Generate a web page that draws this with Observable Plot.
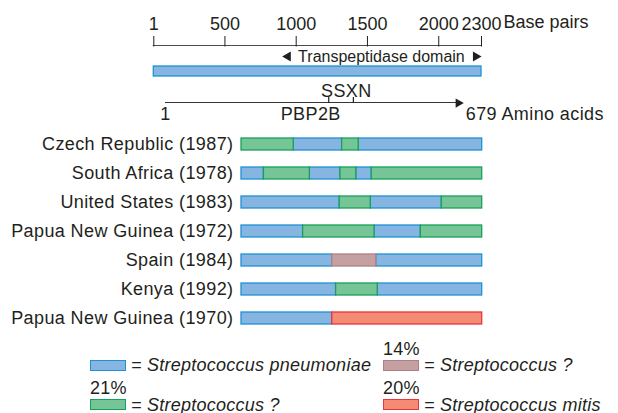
<!DOCTYPE html>
<html><head><meta charset="utf-8">
<script src="https://cdn.jsdelivr.net/npm/d3@7"></script>
<script src="https://cdn.jsdelivr.net/npm/@observablehq/plot@0.6"></script>
<style>
html,body{margin:0;padding:0;background:#fff;}
#fig{position:relative;width:618px;height:413px;overflow:hidden;font-family:"Liberation Sans",Arial,Helvetica,sans-serif;color:#231f20;}
#fig svg{position:absolute;left:0;top:0;}
.lg{position:absolute;font-size:18px;white-space:nowrap;line-height:16px;height:16px;letter-spacing:0.25px;}
.sw{position:absolute;box-sizing:border-box;border:1.3px solid;}
</style></head><body><div id="fig"></div>
<script>
// ---- data ----
const bpTicks = [1, 500, 1000, 1500, 2000, 2300];
const bpUnit = "Base pairs";
const geneSpan = [1, 2300];
const domainLabel = "Transpeptidase domain";
const domainSpan = [902, 2300];
const domainLabelPos = 1598;
const aaSpan = [1, 679];
const aaUnit = "Amino acids";
const motifTicks = [372, 428];
const motifLabel = "SSXN";
const motifLabelPos = 412;
const geneName = "PBP2B";
const geneNamePos = 331;

const rows = [
  "Czech Republic (1987)",
  "South Africa (1978)",
  "United States (1983)",
  "Papua New Guinea (1972)",
  "Spain (1984)",
  "Kenya (1992)",
  "Papua New Guinea (1970)"
];
// segment breakpoints (% of the mosaic region) and origin of each segment
const rowBreaks = [
  [0, 21.7, 41.8, 48.7, 100],
  [0, 9.3, 28.4, 41.1, 47.7, 54.1, 100],
  [0, 40.8, 53.7, 83.2, 100],
  [0, 25.6, 55.3, 74.5, 100],
  [0, 37.7, 56.0, 100],
  [0, 39.3, 56.6, 100],
  [0, 37.7, 100]
];
const rowKinds = [
  ["G", "B", "G", "B"],
  ["B", "G", "B", "G", "B", "G"],
  ["B", "G", "B", "G"],
  ["B", "G", "B", "G"],
  ["B", "P", "B"],
  ["B", "G", "B"],
  ["B", "R"]
];
const kindFill = {B: "#87b5e1", G: "#75c597", P: "#c5a0a3", R: "#f48b72"};
const kindStroke = {B: "#1e92d4", G: "#17a05b", P: "#ae8085", R: "#e4363d"};
const legendKinds = ["B", "P", "G", "R"];
const legendNames = ["Streptococcus pneumoniae", "Streptococcus ?", "Streptococcus ?", "Streptococcus mitis"];
const legendPct = ["", "14%", "21%", "20%"];

// ---- drawing ----
const ink = "#231f20";
const font = "'Liberation Sans', Arial, Helvetica, sans-serif";
const baseStyle = {background: "transparent", fontSize: "18px", fontFamily: font, color: ink, overflow: "visible"};
const wideStyle = Object.assign({}, baseStyle, {letterSpacing: "0.4px"});
const fig = document.getElementById("fig");

// Plot A: base-pair ruler and gene bar
const plotA = Plot.plot({
  width: 618, height: 85, marginTop: 45.5, marginBottom: 0, marginLeft: 153, marginRight: 137,
  style: baseStyle,
  x: {domain: [geneSpan[0], geneSpan[1]], range: [153.3, 481], axis: "top", ticks: bpTicks,
      tickSize: 10.5, tickPadding: 5.5, tickFormat: d => String(d), label: null},
  y: {type: "band", domain: ["ruler", "domain", "gene"], range: [35, 77.3], paddingInner: 0.34, paddingOuter: 0, axis: null},
  marks: [
    Plot.barX([{a: geneSpan[0], b: geneSpan[1]}], {x1: "a", x2: "b", y: () => "ruler", insetTop: 9.2, insetLeft: -0.6, insetRight: -0.6, fill: ink}),
    Plot.text([bpUnit], {x: () => geneSpan[1], y: () => "ruler", dx: 22, dy: -19, textAnchor: "start", letterSpacing: "0.3px"}),
    Plot.text([domainLabel], {x: () => domainLabelPos, y: () => "domain", fontSize: 16}),
    Plot.dot([domainSpan[0]], {x: d => d, y: () => "domain", symbol: "triangle", rotate: -90, r: 3.7, dx: 5.7, fill: ink}),
    Plot.dot([domainSpan[1]], {x: d => d, y: () => "domain", symbol: "triangle", rotate: 90, r: 3.7, dx: -5.7, fill: ink}),
    Plot.barX([{a: geneSpan[0], b: geneSpan[1]}], {x1: "a", x2: "b", y: () => "gene", fill: kindFill.B, stroke: kindStroke.B, strokeWidth: 1.3})
  ]
});
fig.appendChild(plotA);

// Plot B: amino-acid arrow
const plotB = Plot.plot({
  width: 618, height: 125, margin: 0,
  style: wideStyle,
  x: {domain: aaSpan, range: [165, 463.3], axis: null},
  y: {type: "band", domain: ["aa"], range: [96.7, 103.3], padding: 0, axis: null},
  marks: [
    Plot.barX([{a: aaSpan[0], b: aaSpan[1]}], {x1: "a", x2: "b", y: () => "aa", insetTop: 5.1, insetRight: 3, fill: ink}),
    Plot.tickX(motifTicks, {x: d => d, y: () => "aa", stroke: ink, strokeWidth: 1.2}),
    Plot.dot([aaSpan[1]], {x: d => d, y: () => "aa", dy: 2.6, dx: -5.44, symbol: "triangle", rotate: 90, r: 3.5, fill: ink}),
    Plot.text([motifLabel], {x: () => motifLabelPos, y: () => "aa", dy: -9}),
    Plot.text([String(aaSpan[0])], {x: () => aaSpan[0], y: () => "aa", dy: 14}),
    Plot.text([geneName], {x: () => geneNamePos, y: () => "aa", dy: 14}),
    Plot.text([aaSpan[1] + " " + aaUnit], {x: () => aaSpan[1], y: () => "aa", dx: 2, dy: 14, textAnchor: "start"})
  ]
});
fig.appendChild(plotB);

// Plot C: mosaic rows
const segs = [];
rows.forEach((r, i) => {
  const b = rowBreaks[i];
  rowKinds[i].forEach((k, j) => segs.push({row: r, start: b[j], end: b[j + 1], kind: k}));
});
segs.sort((a, b) => (a.kind === "B" ? 0 : 1) - (b.kind === "B" ? 0 : 1));
const plotC = Plot.plot({
  width: 618, height: 345, marginLeft: 241, marginRight: 136, marginTop: 0, marginBottom: 0,
  style: wideStyle,
  x: {domain: [0, 100], range: [241, 481.7], axis: null},
  y: {domain: rows, range: [120, 341.2], padding: 0.6, tickSize: 0, tickPadding: 8, label: null},
  color: {type: "identity"},
  marks: [
    Plot.barX(segs, {x1: "start", x2: "end", y: "row", fill: d => kindFill[d.kind], stroke: d => kindStroke[d.kind], strokeWidth: 1.3})
  ]
});
fig.appendChild(plotC);

// Legend
const colX = [90, 383];
const rowY = [365, 404.5];
legendKinds.forEach((k, i) => {
  const cx = colX[i % 2], cy = rowY[Math.floor(i / 2)];
  const sw = document.createElement("div");
  sw.className = "sw";
  Object.assign(sw.style, {left: cx + "px", top: (cy - 5.5) + "px", width: "36px", height: "11px", background: kindFill[k], borderColor: kindStroke[k]});
  fig.appendChild(sw);
  const t = document.createElement("div");
  t.className = "lg";
  t.style.left = (cx + 41) + "px";
  t.style.top = (cy - 8) + "px";
  t.innerHTML = "<i>= " + legendNames[i] + "</i>";
  fig.appendChild(t);
  if (legendPct[i]) {
    const p = document.createElement("div");
    p.className = "lg";
    p.style.left = cx + "px";
    p.style.top = (cy - 16.5 - 8) + "px";
    p.textContent = legendPct[i];
    fig.appendChild(p);
  }
});
</script>
</body></html>
